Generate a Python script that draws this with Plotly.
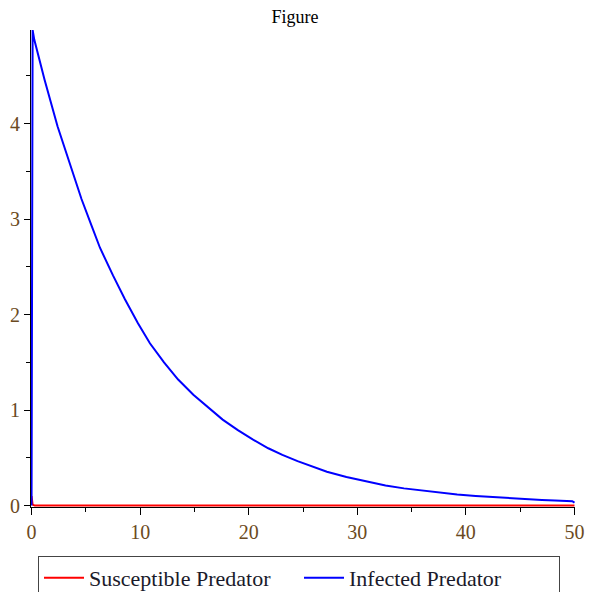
import plotly.graph_objects as go

# Data
t_susceptible = [0, 0.1, 0.3, 50]
susceptible = [0.1, 0.01, 0.0, 0.0]

t_infected = [0, 0.1, 0.25, 1.2, 2.4, 3.7, 4.6, 5.5, 6.3, 7.5, 8.6, 9.8, 10.9, 12.2,
              13.5, 14.9, 16.3, 17.6, 19.0, 20.4, 21.8, 23.1, 24.5, 25.9, 27.2, 29.0,
              30.9, 32.6, 34.3, 36.0, 37.5, 39.2, 40.9, 42.5, 44.0, 45.5, 47.0, 48.2,
              49.3, 49.8, 50]
infected = [0, 4.98, 4.88, 4.46, 3.97, 3.51, 3.21, 2.94, 2.70, 2.41, 2.16, 1.91, 1.70,
            1.50, 1.32, 1.16, 1.02, 0.90, 0.79, 0.69, 0.60, 0.53, 0.465, 0.405, 0.355,
            0.30, 0.25, 0.21, 0.18, 0.155, 0.135, 0.115, 0.10, 0.087, 0.076, 0.066,
            0.058, 0.052, 0.048, 0.045, 0.03]

x_ticks = [0, 10, 20, 30, 40, 50]
y_ticks = [0, 1, 2, 3, 4]

serif = "Liberation Serif, Times New Roman, serif"
tick_color = "#6b4a22"

# page has an 8px body margin, so figure coordinates are page coordinates minus 8
W, H = 586, 584

fig = go.Figure()
fig.add_trace(go.Scatter(x=t_susceptible, y=susceptible, mode="lines",
                         name="Susceptible Predator",
                         line=dict(color="#ff0000", width=2)))
fig.add_trace(go.Scatter(x=t_infected, y=infected, mode="lines",
                         name="Infected Predator",
                         line=dict(color="#0000ff", width=2)))

fig.update_layout(
    width=W, height=H,
    margin=dict(l=22.5, r=W - 567, t=22, b=H - 499, autoexpand=False),
    paper_bgcolor="white", plot_bgcolor="white",
    title=dict(text="Figure", x=287 / W, xref="container", xanchor="center",
               y=1 - 9 / H, yref="container", yanchor="middle",
               font=dict(family=serif, size=18, color="black")),
    showlegend=True,
    legend=dict(orientation="h", x=30 / W, xanchor="left",
                y=1 - 548 / H, yanchor="top",
                xref="container", yref="container",
                bordercolor="#444444", borderwidth=1, bgcolor="white",
                font=dict(family=serif, size=22, color="#1a1a2a"),
                itemwidth=40, tracegroupgap=0, entrywidth=205),
    font=dict(family=serif, color=tick_color),
)
fig.update_xaxes(range=[-0.05, 50.05], showgrid=False, zeroline=False, automargin=False,
                 showline=True, linecolor="black", linewidth=1, layer="below traces",
                 tickmode="array", tickvals=x_ticks, ticks="outside", ticklen=7,
                 tickcolor="black", tickwidth=1,
                 tickfont=dict(family=serif, size=20, color=tick_color),
                 minor=dict(ticks="outside", ticklen=4, dtick=5, tick0=0,
                            tickcolor="black", showgrid=False))
fig.update_yaxes(range=[-0.015, 4.98], showgrid=False, zeroline=False, automargin=False,
                 showline=True, linecolor="black", linewidth=1, layer="below traces",
                 tickmode="array", tickvals=y_ticks, ticks="outside", ticklen=6,
                 tickcolor="black", tickwidth=1,
                 tickfont=dict(family=serif, size=20, color=tick_color),
                 minor=dict(ticks="outside", ticklen=4, dtick=0.5, tick0=0,
                            tickcolor="black", showgrid=False))

fig.write_html("out.html")
